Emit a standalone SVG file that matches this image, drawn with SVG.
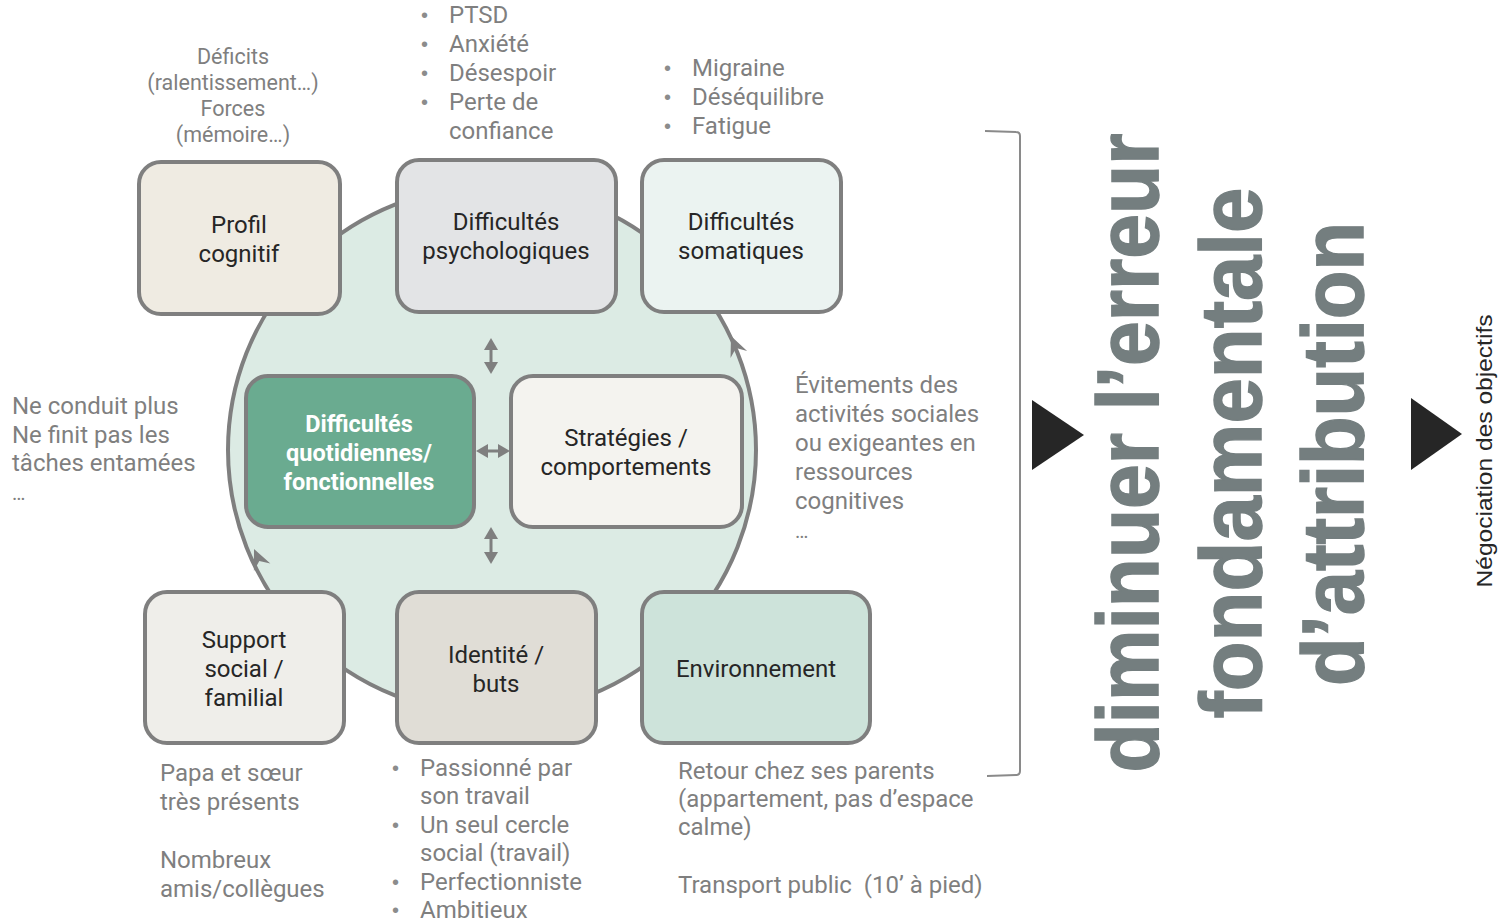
<svg xmlns="http://www.w3.org/2000/svg" width="1507" height="924" viewBox="0 0 1507 924">
  <defs>
    <style>
      .box { stroke: #7f7f7f; stroke-width: 4; }
      .lbl { font-family: Roboto, "Liberation Sans", sans-serif; font-size: 24px; fill: #262626; text-anchor: middle; }
      .lbl-w { font-family: Roboto, "Liberation Sans", sans-serif; font-size: 23.5px; font-weight: bold; fill: #ffffff; text-anchor: middle; }
      .note { font-family: Roboto, "Liberation Sans", sans-serif; font-size: 24px; fill: #7f7f7f; }
      .note-s { font-family: Roboto, "Liberation Sans", sans-serif; font-size: 21.5px; fill: #7f7f7f; text-anchor: middle; }
      .bul { font-family: "Liberation Sans", sans-serif; font-size: 20px; fill: #8c8c8c; }
      .big { font-family: "Liberation Sans", Arial, sans-serif; font-size: 88px; font-weight: bold; fill: #747e7f; stroke: #747e7f; stroke-width: 1.5; text-anchor: middle; }
      .conn { stroke: #7f7f7f; fill: none; }
      .head { fill: #7f7f7f; }
    </style>
    <!-- notched arrowhead pointing along +x, tip at origin -->
    <path id="cycle-head" d="M0,0 L-20,-9 L-13,0 L-20,9 Z"/>
  </defs>

  <!-- background cycle -->
  <g id="cycle">
    <circle cx="492" cy="450" r="264" fill="#dcebe4" stroke="#7f7f7f" stroke-width="4"/>
    <use href="#cycle-head" class="head" transform="translate(254,549) rotate(-114)"/>
    <use href="#cycle-head" class="head" transform="translate(731,336) rotate(-113)"/>
  </g>

  <!-- connectors between the central boxes -->
  <g id="connectors">
    <line class="conn" x1="491" y1="348" x2="491" y2="364" stroke-width="3"/>
    <path class="head" d="M491,338 L484,350 L498,350 Z"/>
    <path class="head" d="M491,374 L484,362 L498,362 Z"/>

    <line class="conn" x1="491" y1="537" x2="491" y2="554" stroke-width="3"/>
    <path class="head" d="M491,527 L484,539 L498,539 Z"/>
    <path class="head" d="M491,564 L484,552 L498,552 Z"/>

    <line class="conn" x1="485" y1="451" x2="501" y2="451" stroke-width="3"/>
    <path class="head" d="M476,451 L488,444 L488,458 Z"/>
    <path class="head" d="M510,451 L498,444 L498,458 Z"/>
  </g>

  <g id="profil-cognitif">
    <rect class="box" x="139" y="162" width="201" height="152" rx="22" fill="#efebe2"/>
    <text class="lbl" x="239" y="233">Profil</text>
    <text class="lbl" x="239" y="262">cognitif</text>
  </g>

  <g id="difficultes-psychologiques">
    <rect class="box" x="397" y="160" width="219" height="152" rx="22" fill="#e3e4e6"/>
    <text class="lbl" x="506" y="230">Difficultés</text>
    <text class="lbl" x="506" y="259">psychologiques</text>
  </g>

  <g id="difficultes-somatiques">
    <rect class="box" x="642" y="160" width="199" height="152" rx="22" fill="#ebf3f1"/>
    <text class="lbl" x="741" y="230">Difficultés</text>
    <text class="lbl" x="741" y="259">somatiques</text>
  </g>

  <g id="difficultes-quotidiennes">
    <rect class="box" x="246" y="376" width="228" height="151" rx="22" fill="#6aab90"/>
    <text class="lbl-w" x="359" y="432">Difficultés</text>
    <text class="lbl-w" x="359" y="461">quotidiennes/</text>
    <text class="lbl-w" x="359" y="490">fonctionnelles</text>
  </g>

  <g id="strategies">
    <rect class="box" x="511" y="376" width="231" height="151" rx="22" fill="#f4f3ef"/>
    <text class="lbl" x="626" y="446">Stratégies /</text>
    <text class="lbl" x="626" y="475">comportements</text>
  </g>

  <g id="support-social">
    <rect class="box" x="145" y="592" width="199" height="151" rx="22" fill="#efeeea"/>
    <text class="lbl" x="244" y="648">Support</text>
    <text class="lbl" x="244" y="677">social /</text>
    <text class="lbl" x="244" y="706">familial</text>
  </g>

  <g id="identite">
    <rect class="box" x="397" y="592" width="199" height="151" rx="22" fill="#e0ddd6"/>
    <text class="lbl" x="496" y="663">Identité /</text>
    <text class="lbl" x="496" y="692">buts</text>
  </g>

  <g id="environnement">
    <rect class="box" x="642" y="592" width="228" height="151" rx="22" fill="#cde3da"/>
    <text class="lbl" x="756" y="677">Environnement</text>
  </g>

  <!-- annotations -->
  <g id="note-profil">
    <text class="note-s" x="233" y="64">Déficits</text>
    <text class="note-s" x="233" y="90">(ralentissement…)</text>
    <text class="note-s" x="233" y="116">Forces</text>
    <text class="note-s" x="233" y="142">(mémoire…)</text>
  </g>

  <g id="note-psy">
    <text class="bul" x="421" y="22">•</text>
    <text class="bul" x="421" y="51">•</text>
    <text class="bul" x="421" y="80">•</text>
    <text class="bul" x="421" y="109">•</text>
    <text class="note" x="449" y="23">PTSD</text>
    <text class="note" x="449" y="52">Anxiété</text>
    <text class="note" x="449" y="81">Désespoir</text>
    <text class="note" x="449" y="110">Perte de</text>
    <text class="note" x="449" y="139">confiance</text>
  </g>

  <g id="note-soma">
    <text class="bul" x="664" y="75">•</text>
    <text class="bul" x="664" y="104">•</text>
    <text class="bul" x="664" y="133">•</text>
    <text class="note" x="692" y="76">Migraine</text>
    <text class="note" x="692" y="105">Déséquilibre</text>
    <text class="note" x="692" y="134">Fatigue</text>
  </g>

  <g id="note-quotidien">
    <text class="note" x="12" y="414">Ne conduit plus</text>
    <text class="note" x="12" y="443">Ne finit pas les</text>
    <text class="note" x="12" y="471">tâches entamées</text>
    <text class="note" x="12" y="500" style="font-size:20px">…</text>
  </g>

  <g id="note-strategies">
    <text class="note" x="795" y="393">Évitements des</text>
    <text class="note" x="795" y="422">activités sociales</text>
    <text class="note" x="795" y="451">ou exigeantes en</text>
    <text class="note" x="795" y="480">ressources</text>
    <text class="note" x="795" y="509">cognitives</text>
    <text class="note" x="795" y="538" style="font-size:20px">…</text>
  </g>

  <g id="note-support">
    <text class="note" x="160" y="781">Papa et sœur</text>
    <text class="note" x="160" y="810">très présents</text>
    <text class="note" x="160" y="868">Nombreux</text>
    <text class="note" x="160" y="897">amis/collègues</text>
  </g>

  <g id="note-identite">
    <text class="bul" x="392" y="775">•</text>
    <text class="bul" x="392" y="832">•</text>
    <text class="bul" x="392" y="889">•</text>
    <text class="bul" x="392" y="917">•</text>
    <text class="note" x="420" y="776">Passionné par</text>
    <text class="note" x="420" y="804">son travail</text>
    <text class="note" x="420" y="833">Un seul cercle</text>
    <text class="note" x="420" y="861">social (travail)</text>
    <text class="note" x="420" y="890">Perfectionniste</text>
    <text class="note" x="420" y="918">Ambitieux</text>
  </g>

  <g id="note-environnement">
    <text class="note" x="678" y="779">Retour chez ses parents</text>
    <text class="note" x="678" y="807">(appartement, pas d’espace</text>
    <text class="note" x="678" y="835">calme)</text>
    <text class="note" x="678" y="893" xml:space="preserve">Transport public  (10’ à pied)</text>
  </g>

  <!-- bracket grouping the whole model -->
  <g id="bracket">
    <path d="M985,131 L1016,132 Q1020,132 1020,136 L1020,771 Q1020,775 1016,775 L987,776" fill="none" stroke="#8a8a8a" stroke-width="2"/>
  </g>

  <g id="arrow-1">
    <path d="M1032,400 L1084,435 L1032,470 Z" fill="#262626"/>
  </g>

  <g id="message">
    <text class="big" transform="translate(1158,453) rotate(-90)" textLength="639" lengthAdjust="spacingAndGlyphs">diminuer l’erreur</text>
    <text class="big" transform="translate(1261,453) rotate(-90)" textLength="531" lengthAdjust="spacingAndGlyphs">fondamentale</text>
    <text class="big" transform="translate(1363,454) rotate(-90)" textLength="464" lengthAdjust="spacingAndGlyphs">d’attribution</text>
  </g>

  <g id="arrow-2">
    <path d="M1411,398 L1462,434 L1411,470 Z" fill="#262626"/>
  </g>

  <g id="negociation">
    <text transform="translate(1492,451) rotate(-90)" font-family="'Liberation Sans', Arial, sans-serif" font-size="22" fill="#262626" text-anchor="middle" textLength="273" lengthAdjust="spacingAndGlyphs">Négociation des objectifs</text>
  </g>
</svg>
